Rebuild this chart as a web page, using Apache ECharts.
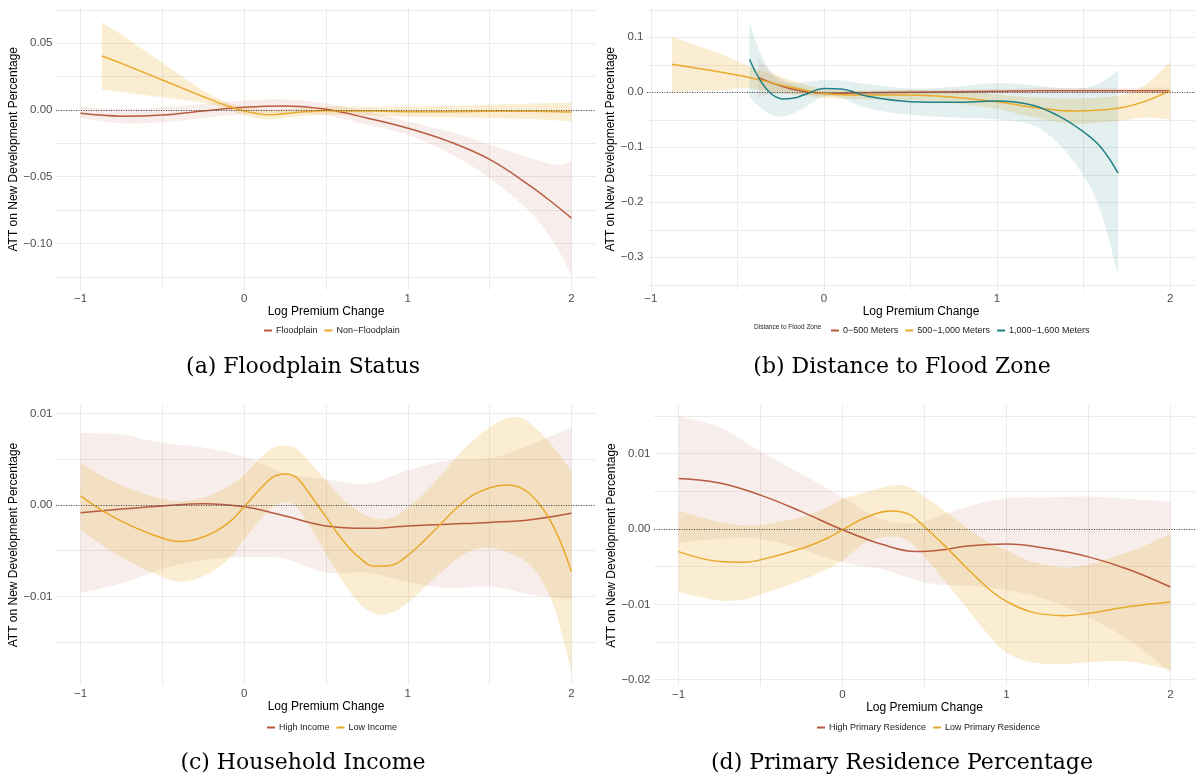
<!DOCTYPE html>
<html><head><meta charset="utf-8">
<script src="https://cdn.jsdelivr.net/npm/echarts@6/dist/echarts.min.js"></script>
<style>html,body{margin:0;padding:0;background:#fff}#c{width:1197px;height:778px}</style>
</head><body><div id="c"></div>
<script>
// ---------- Axis ticks / labels ----------
const xTickVals = [-1, 0, 1, 2];
const xTickLabels = ['\u22121', '0', '1', '2'];
const xGridVals = [-1, -0.5, 0, 0.5, 1, 1.5, 2];

const aYTickVals = [-0.10, -0.05, 0, 0.05];
const aYTickLabels = ['\u22120.10', '\u22120.05', '0.00', '0.05'];
const aYGridVals = [-0.125, -0.10, -0.075, -0.05, -0.025, 0, 0.025, 0.05, 0.075];

const bYTickVals = [-0.3, -0.2, -0.1, 0, 0.1];
const bYTickLabels = ['\u22120.3', '\u22120.2', '\u22120.1', '0.0', '0.1'];
const bYGridVals = [-0.35, -0.3, -0.25, -0.2, -0.15, -0.1, -0.05, 0, 0.05, 0.1, 0.15];

const cYTickVals = [-0.01, 0, 0.01];
const cYTickLabels = ['\u22120.01', '0.00', '0.01'];
const cYGridVals = [-0.015, -0.01, -0.005, 0, 0.005, 0.01];

const dYTickVals = [-0.02, -0.01, 0, 0.01];
const dYTickLabels = ['\u22120.02', '\u22120.01', '0.00', '0.01'];
const dYGridVals = [-0.02, -0.015, -0.01, -0.005, 0, 0.005, 0.01, 0.015];

// ---------- Panel (a) Floodplain Status ----------
const aNames = ['Floodplain', 'Non\u2212Floodplain'];
const aFloodX    = [-1, -0.75, -0.5, -0.25, 0, 0.25, 0.5, 0.75, 1, 1.25, 1.5, 1.75, 1.9, 2];
const aFloodMean = [-0.0025, -0.0046, -0.0037, -0.0007, 0.0020, 0.0030, 0.0005, -0.0060, -0.0136, -0.0235, -0.0370, -0.0570, -0.0710, -0.0810];
const aFloodLo   = [-0.0060, -0.0100, -0.0092, -0.0060, -0.0030, -0.0020, -0.0040, -0.0110, -0.0186, -0.0320, -0.0510, -0.0770, -0.1010, -0.1240];
const aFloodHi   = [0.0020, 0.0010, 0.0018, 0.0045, 0.0072, 0.0080, 0.0050, -0.0010, -0.0087, -0.0160, -0.0260, -0.0360, -0.0410, -0.0385];

const aNonX    = [-0.87, -0.75, -0.5, -0.25, -0.1, 0, 0.15, 0.3, 0.5, 0.75, 1, 1.25, 1.5, 1.75, 2];
const aNonMean = [0.0405, 0.0350, 0.0225, 0.0100, 0.0030, -0.0007, -0.0035, -0.0020, -0.0005, -0.0008, -0.0012, -0.0012, -0.0010, -0.0010, -0.0015];
const aNonLo   = [0.0153, 0.0135, 0.0095, 0.0055, 0.0005, -0.0040, -0.0070, -0.0050, -0.0035, -0.0040, -0.0050, -0.0055, -0.0060, -0.0068, -0.0085];
const aNonHi   = [0.0657, 0.0565, 0.0355, 0.0145, 0.0055, 0.0026, 0.0000, 0.0010, 0.0025, 0.0024, 0.0026, 0.0031, 0.0040, 0.0048, 0.0055];

// ---------- Panel (b) Distance to Flood Zone ----------
const bLegendTitle = 'Distance to Flood Zone';
const bNames = ['0\u2212500 Meters', '500\u22121,000 Meters', '1,000\u22121,600 Meters'];
const bNearX    = [-0.38, -0.3, -0.2, -0.1, 0, 0.25, 0.5, 0.75, 1, 1.25, 1.5, 1.75, 2];
const bNearMean = [0.027, 0.017, 0.007, 0.001, -0.002, -0.001, 0.000, 0.001, 0.002, 0.003, 0.003, 0.003, 0.003];
const bNearLo   = [-0.009, -0.003, -0.003, -0.004, -0.006, -0.005, -0.004, -0.003, -0.002, -0.002, -0.002, -0.002, -0.003];
const bNearHi   = [0.063, 0.037, 0.017, 0.006, 0.002, 0.003, 0.004, 0.005, 0.006, 0.008, 0.008, 0.008, 0.009];

const bMidX    = [-0.878, -0.6, -0.43, -0.2, 0, 0.25, 0.5, 0.75, 1, 1.2, 1.45, 1.7, 1.85, 2];
const bMidMean = [0.051, 0.037, 0.027, 0.010, -0.002, -0.005, -0.005, -0.009, -0.017, -0.027, -0.034, -0.029, -0.017, 0.003];
const bMidLo   = [0.001, 0.004, 0.007, -0.003, -0.010, -0.013, -0.014, -0.020, -0.030, -0.045, -0.057, -0.052, -0.046, -0.049];
const bMidHi   = [0.101, 0.070, 0.047, 0.023, 0.006, 0.003, 0.004, 0.002, -0.004, -0.009, -0.011, -0.006, 0.012, 0.055];

const bFarX    = [-0.43, -0.4, -0.36, -0.32, -0.28, -0.24, -0.18, -0.1, 0, 0.1, 0.25, 0.5, 0.75, 1, 1.2, 1.35, 1.5, 1.6, 1.7];
const bFarMean = [0.060, 0.040, 0.018, 0.002, -0.008, -0.012, -0.011, -0.003, 0.007, 0.006, -0.007, -0.017, -0.018, -0.016, -0.023, -0.042, -0.072, -0.100, -0.147];
const bFarLo   = [-0.008, -0.018, -0.030, -0.038, -0.043, -0.044, -0.039, -0.025, -0.008, -0.010, -0.029, -0.041, -0.046, -0.049, -0.059, -0.092, -0.152, -0.218, -0.334];
const bFarHi   = [0.128, 0.098, 0.066, 0.042, 0.027, 0.020, 0.017, 0.019, 0.022, 0.022, 0.015, 0.007, 0.010, 0.017, 0.013, 0.008, 0.008, 0.018, 0.040];

// ---------- Panel (c) Household Income ----------
const cNames = ['High Income', 'Low Income'];
const cHighX    = [-1, -0.75, -0.5, -0.25, 0, 0.25, 0.5, 0.75, 1, 1.25, 1.5, 1.75, 2];
const cHighMean = [-0.00084, -0.00044, -0.00010, 0.00015, -0.00020, -0.00120, -0.00230, -0.00255, -0.00230, -0.00210, -0.00190, -0.00160, -0.00090];
const cHighLo   = [-0.0096, -0.0086, -0.0070, -0.0060, -0.0057, -0.0059, -0.0074, -0.0074, -0.0084, -0.0091, -0.0089, -0.0098, -0.0103];
const cHighHi   = [0.0079, 0.0077, 0.0068, 0.0063, 0.0053, 0.0035, 0.0028, 0.0023, 0.0038, 0.0049, 0.0051, 0.0066, 0.0085];

const cLowX    = [-1, -0.85, -0.7, -0.55, -0.4, -0.25, -0.1, 0, 0.1, 0.18, 0.25, 0.32, 0.4, 0.5, 0.6, 0.7, 0.8, 0.9, 1.0, 1.1, 1.2, 1.3, 1.4, 1.5, 1.6, 1.7, 1.8, 1.9, 2.0];
const cLowMean = [0.0010, -0.0008, -0.0022, -0.0033, -0.0040, -0.0035, -0.0020, -0.0002, 0.0018, 0.0031, 0.0034, 0.0030, 0.0012, -0.0013, -0.0038, -0.0057, -0.0067, -0.0066, -0.0055, -0.0039, -0.0021, -0.0003, 0.0011, 0.0019, 0.0022, 0.0018, 0.0002, -0.0027, -0.0073];
const cLowLo   = [-0.0027, -0.0046, -0.0062, -0.0075, -0.0084, -0.0078, -0.0060, -0.0037, -0.0016, -0.0001, 0.0003, -0.0002, -0.0023, -0.0053, -0.0083, -0.0107, -0.0119, -0.0118, -0.0107, -0.0091, -0.0074, -0.0059, -0.0049, -0.0047, -0.0051, -0.0059, -0.0077, -0.0115, -0.0183];
const cLowHi   = [0.0046, 0.0030, 0.0018, 0.0009, 0.0004, 0.0008, 0.0020, 0.0033, 0.0052, 0.0063, 0.0065, 0.0062, 0.0047, 0.0027, 0.0007, -0.0007, -0.0015, -0.0014, -0.0003, 0.0013, 0.0032, 0.0053, 0.0071, 0.0085, 0.0095, 0.0095, 0.0081, 0.0061, 0.0037];

// ---------- Panel (d) Primary Residence Percentage ----------
const dNames = ['High Primary Residence', 'Low Primary Residence'];
const dHighX    = [-1, -0.75, -0.5, -0.25, 0, 0.25, 0.45, 0.6, 0.75, 1, 1.25, 1.5, 1.75, 2];
const dHighMean = [0.0067, 0.0061, 0.0045, 0.0023, -0.0001, -0.0021, -0.0030, -0.0028, -0.0023, -0.0020, -0.0026, -0.0037, -0.0054, -0.0077];
const dHighLo   = [-0.0018, -0.0013, -0.0013, -0.0027, -0.0044, -0.0054, -0.0068, -0.0074, -0.0075, -0.0081, -0.0094, -0.0117, -0.0148, -0.0190];
const dHighHi   = [0.0150, 0.0135, 0.0103, 0.0073, 0.0042, 0.0012, 0.0008, 0.0018, 0.0029, 0.0041, 0.0042, 0.0043, 0.0040, 0.0036];

const dLowX    = [-1, -0.75, -0.6, -0.5, -0.25, -0.1, 0, 0.15, 0.3, 0.4, 0.5, 0.65, 0.75, 0.9, 1, 1.15, 1.35, 1.5, 1.75, 2];
const dLowMean = [-0.0030, -0.0043, -0.0044, -0.0041, -0.0026, -0.0013, -0.0001, 0.0016, 0.0024, 0.0020, 0.0003, -0.0028, -0.0050, -0.0081, -0.0096, -0.0110, -0.0115, -0.0112, -0.0103, -0.0097];
const dLowLo   = [-0.0084, -0.0095, -0.0093, -0.0087, -0.0068, -0.0054, -0.0042, -0.0017, -0.0010, -0.0016, -0.0037, -0.0076, -0.0103, -0.0143, -0.0164, -0.0177, -0.0179, -0.0177, -0.0176, -0.0187];
const dLowHi   = [0.0024, 0.0009, 0.0005, 0.0005, 0.0016, 0.0028, 0.0040, 0.0049, 0.0058, 0.0056, 0.0043, 0.0020, 0.0003, -0.0019, -0.0028, -0.0043, -0.0051, -0.0047, -0.0030, -0.0007];

const captions = ['(a) Floodplain Status', '(b) Distance to Flood Zone', '(c) Household Income', '(d) Primary Residence Percentage'];
const yTitle = 'ATT on New Development Percentage';
const xTitle = 'Log Premium Change';

// ---------- styling ----------
const FONT = 'Liberation Sans, Arial, sans-serif';
const RED = '#B85A3E', YEL = '#E9A92A', TEAL = '#1F8085';
const RED_F = 'rgba(184,90,62,0.11)', YEL_F = 'rgba(233,169,42,0.21)', TEAL_F = 'rgba(31,128,133,0.12)';
const GRID_C = '#EBEBEB';

function pickLabel(vals, labels) {
  return function (v) {
    let best = 0, bd = Infinity;
    vals.forEach((t, i) => { const d = Math.abs(t - v); if (d < bd) { bd = d; best = i; } });
    return labels[best];
  };
}

function crSample(pts, steps) {
  const out = [], n = pts.length;
  if (n < 2) return pts.slice();
  for (let i = 0; i < n - 1; i++) {
    const p0 = pts[Math.max(i - 1, 0)], p1 = pts[i], p2 = pts[i + 1], p3 = pts[Math.min(i + 2, n - 1)];
    for (let s = 0; s < steps; s++) {
      const t = s / steps, t2 = t * t, t3 = t2 * t;
      const f = k => 0.5 * ((2 * p1[k]) + (-p0[k] + p2[k]) * t + (2 * p0[k] - 5 * p1[k] + 4 * p2[k] - p3[k]) * t2 + (-p0[k] + 3 * p1[k] - 3 * p2[k] + p3[k]) * t3);
      out.push([f(0), f(1)]);
    }
  }
  out.push(pts[n - 1]);
  return out;
}

function band(name, gi, xs, lo, hi, fill) {
  return {
    type: 'custom', name: name, xAxisIndex: gi, yAxisIndex: gi, silent: true, z: 1,
    data: xs.map((x, i) => [x, lo[i], hi[i]]),
    encode: { x: 0, y: [1, 2] },
    renderItem: function (params, api) {
      if (params.dataIndexInside !== 0) return null;
      const n = params.dataInsideLength;
      const up = [], dn = [];
      for (let i = 0; i < n; i++) {
        up.push(api.coord([api.value(0, i), api.value(2, i)]));
        dn.push(api.coord([api.value(0, i), api.value(1, i)]));
      }
      const pts = crSample(up, 10).concat(crSample(dn.reverse(), 10));
      return { type: 'polygon', shape: { points: pts }, style: { fill: fill, stroke: null } };
    }
  };
}

function meanLine(name, gi, xs, ys, color, zero) {
  const s = {
    type: 'line', name: name, xAxisIndex: gi, yAxisIndex: gi, z: 3,
    data: xs.map((x, i) => [x, ys[i]]), symbol: 'none', smooth: 0.4,
    color: color, lineStyle: { color: color, width: 1.5 }, silent: true
  };
  if (zero) {
    s.markLine = {
      silent: true, symbol: ['none', 'none'], label: { show: false }, animation: false,
      lineStyle: { color: '#4a4a4a', type: [1, 1.5], width: 1 },
      data: [{ yAxis: 0 }]
    };
  }
  return s;
}

function xAxisFor(gi, min, max) {
  return {
    type: 'value', gridIndex: gi, min: min, max: max,
    name: xTitle, nameLocation: 'middle', nameGap: 16,
    nameTextStyle: { fontSize: 12, color: '#000', fontFamily: FONT },
    axisLine: { show: false },
    axisTick: { show: false, customValues: xGridVals },
    axisLabel: { customValues: xTickVals, formatter: pickLabel(xTickVals, xTickLabels), fontSize: 11.5, color: '#4D4D4D', margin: 2.5, fontFamily: FONT },
    splitLine: { show: true, lineStyle: { color: GRID_C, width: 1 } }
  };
}
function yAxisFor(gi, min, max, tv, tl, gv, gap) {
  return {
    type: 'value', gridIndex: gi, min: min, max: max,
    name: yTitle, nameLocation: 'middle', nameRotate: 90, nameGap: gap,
    nameTextStyle: { fontSize: 12, color: '#000', fontFamily: FONT },
    axisLine: { show: false },
    axisTick: { show: false, customValues: gv },
    axisLabel: { customValues: tv, formatter: pickLabel(tv, tl), fontSize: 11.5, color: '#4D4D4D', margin: 3.5, fontFamily: FONT },
    splitLine: { show: true, lineStyle: { color: GRID_C, width: 1 } }
  };
}
function legendFor(names, left, top) {
  return {
    data: names, left: left, top: top, orient: 'horizontal', selectedMode: false,
    itemWidth: 8, itemHeight: 2, itemGap: 6,
    textStyle: { fontSize: 9, color: '#222', fontFamily: FONT, padding: [0, 0, 0, -1] }
  };
}
function caption(text, cx, cy) {
  return {
    type: 'text', x: cx, y: cy, z: 10,
    style: { text: text, align: 'center', verticalAlign: 'middle', textAlign: 'center', textVerticalAlign: 'middle', font: '22px "DejaVu Serif", "Liberation Serif", serif', fill: '#000' }
  };
}

const chart = echarts.init(document.getElementById('c'), null, { renderer: 'canvas' });
const option = {
  animation: false,
  backgroundColor: '#fff',
  grid: [
    { left: 56, top: 8.5, width: 540, height: 281.5 },
    { left: 647, top: 8.5, width: 548, height: 281.5 },
    { left: 56, top: 405, width: 540, height: 280 },
    { left: 654, top: 405, width: 541, height: 281 }
  ],
  xAxis: [
    xAxisFor(0, -1.15, 2.15),
    xAxisFor(1, -1.022, 2.144),
    xAxisFor(2, -1.15, 2.15),
    xAxisFor(3, -1.15, 2.15)
  ],
  yAxis: [
    yAxisFor(0, -0.1349, 0.0761, aYTickVals, aYTickLabels, aYGridVals, 35),
    yAxisFor(1, -0.3595, 0.1524, bYTickVals, bYTickLabels, bYGridVals, 27),
    yAxisFor(2, -0.0197, 0.01095, cYTickVals, cYTickLabels, cYGridVals, 35),
    yAxisFor(3, -0.02084, 0.01646, dYTickVals, dYTickLabels, dYGridVals, 34)
  ],
  legend: [
    legendFor(aNames, 258, 321),
    legendFor(bNames, 825, 321),
    legendFor(cNames, 261, 718),
    legendFor(dNames, 811, 718)
  ],
  graphic: [
    caption(captions[0], 303, 367),
    caption(captions[1], 902, 367),
    caption(captions[2], 303, 763),
    caption(captions[3], 902, 763),
    { type: 'text', x: 754, y: 327.5, style: { text: bLegendTitle, font: '6.5px ' + FONT, fill: '#222', verticalAlign: 'middle', textVerticalAlign: 'middle' } }
  ],
  series: [
    band('Floodplain band', 0, aFloodX, aFloodLo, aFloodHi, RED_F),
    band('Non-Floodplain band', 0, aNonX, aNonLo, aNonHi, YEL_F),
    meanLine(aNames[0], 0, aFloodX, aFloodMean, RED, true),
    meanLine(aNames[1], 0, aNonX, aNonMean, YEL, false),

    band('Near band', 1, bNearX, bNearLo, bNearHi, RED_F),
    band('Mid band', 1, bMidX, bMidLo, bMidHi, YEL_F),
    band('Far band', 1, bFarX, bFarLo, bFarHi, TEAL_F),
    meanLine(bNames[0], 1, bNearX, bNearMean, RED, true),
    meanLine(bNames[1], 1, bMidX, bMidMean, YEL, false),
    meanLine(bNames[2], 1, bFarX, bFarMean, TEAL, false),

    band('High Income band', 2, cHighX, cHighLo, cHighHi, RED_F),
    band('Low Income band', 2, cLowX, cLowLo, cLowHi, YEL_F),
    meanLine(cNames[0], 2, cHighX, cHighMean, RED, true),
    meanLine(cNames[1], 2, cLowX, cLowMean, YEL, false),

    band('High PR band', 3, dHighX, dHighLo, dHighHi, RED_F),
    band('Low PR band', 3, dLowX, dLowLo, dLowHi, YEL_F),
    meanLine(dNames[0], 3, dHighX, dHighMean, RED, true),
    meanLine(dNames[1], 3, dLowX, dLowMean, YEL, false)
  ]
};
chart.setOption(option);
</script></body></html>
